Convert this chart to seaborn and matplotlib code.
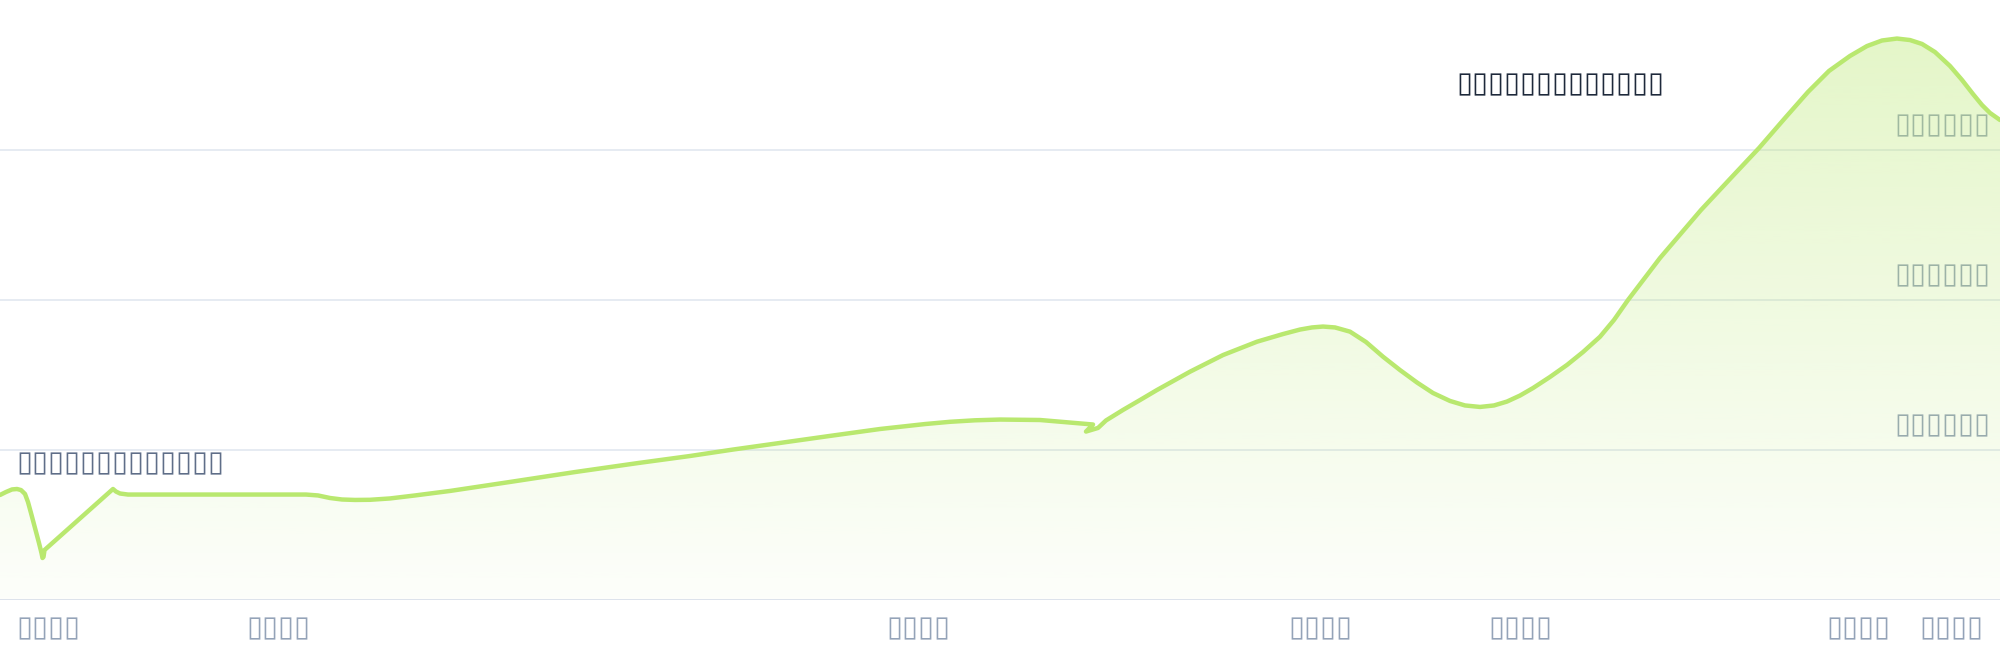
import numpy as np
import pandas as pd
import matplotlib
matplotlib.use("Agg")
import matplotlib.pyplot as plt
import matplotlib.colors as mcolors
import seaborn as sns

# text in the reference is unreadable (rendered as empty boxes), kept as box glyphs
BOX = "\u25af"
title_text = BOX * 13
note_text = BOX * 13
y_labels = [BOX * 6, BOX * 6, BOX * 6]
y_label_values = [1, 2, 3]
x_tick_pos = [48, 278, 918, 1320, 1520, 1858, 1951]
x_tick_labels = [BOX * 4] * 7

# curve (x position, value in grid units)
xs = [0, 6, 12, 17, 21, 25, 28, 31, 35, 39, 41.5, 42.5, 43.5, 44.5, 113, 116, 120, 128,
      306, 318, 330, 342, 355, 370, 390, 415, 450, 510, 575, 638, 690, 733, 780, 829,
      880, 925, 950, 975, 1000, 1040, 1070, 1093, 1086, 1098, 1106, 1123, 1140, 1157,
      1190, 1223, 1257, 1283, 1300, 1312, 1323, 1335, 1350, 1366, 1383, 1400, 1417,
      1433, 1450, 1465, 1480, 1494, 1507, 1520, 1533, 1550, 1567, 1583, 1600, 1614,
      1628, 1660, 1701, 1730, 1759, 1785, 1808, 1829, 1850, 1867, 1882, 1897, 1910,
      1922, 1935, 1950, 1962, 1973, 1982, 1990, 2000]
ys = [0.700, 0.720, 0.737, 0.740, 0.733, 0.707, 0.653, 0.580, 0.480, 0.380, 0.313,
      0.280, 0.287, 0.333, 0.740, 0.723, 0.710, 0.703,
      0.703, 0.697, 0.680, 0.670, 0.667, 0.668, 0.677, 0.697, 0.727, 0.787, 0.853,
      0.913, 0.960, 1.003, 1.047, 1.093,
      1.140, 1.173, 1.188, 1.198, 1.203, 1.200, 1.183, 1.170, 1.123, 1.147, 1.197,
      1.267, 1.333, 1.400,
      1.522, 1.633, 1.722, 1.773, 1.803, 1.817, 1.823, 1.817, 1.789, 1.720, 1.622,
      1.533, 1.450,
      1.380, 1.327, 1.297, 1.287, 1.297, 1.323, 1.363, 1.413, 1.487, 1.567, 1.653,
      1.755, 1.867,
      2.000, 2.280, 2.600, 2.807, 3.013, 3.213, 3.387, 3.527, 3.627, 3.693, 3.730,
      3.743, 3.733,
      3.707, 3.653, 3.560, 3.467, 3.373, 3.300, 3.247, 3.200]

df = pd.DataFrame({"x": xs, "y": ys})

LINE = "#b9e86f"
GRID = "#e2e8f0"

sns.set_theme(style="white")
plt.rcParams["font.family"] = ["DejaVu Sans"]

fig = plt.figure(figsize=(10, 3.3), dpi=200)
ax = fig.add_axes([0, 60 / 660, 1, 600 / 660])
ax.set_xlim(0, 2000)
ax.set_ylim(0, 4)
for s in ax.spines.values():
    s.set_visible(False)

for v in y_label_values:
    ax.axhline(v, color=GRID, lw=0.6, zorder=0.5)
ax.axhline(0, color="#dde3ec", lw=0.7, zorder=2.5)

# y labels sit under the translucent fill
for v, lab in zip(y_label_values, y_labels):
    ax.annotate(lab, xy=(1, v), xycoords=("axes fraction", "data"),
                xytext=(-3.5, 4), textcoords="offset points",
                ha="right", va="bottom", fontsize=10.5, color="#94a3b8", zorder=1)

# gradient fill under the curve
poly = ax.fill_between(df["x"], df["y"], 0, facecolor="none", edgecolor="none")
rgb = mcolors.to_rgb(LINE)
n = 256
grad = np.zeros((n, 1, 4))
grad[:, 0, :3] = rgb
grad[:, 0, 3] = 0.03 + 0.093 * np.linspace(0, 4, n)
img = ax.imshow(grad, origin="lower", extent=[0, 2000, 0, 4], aspect="auto", zorder=2)
img.set_clip_path(poly.get_paths()[0], transform=ax.transData)

sns.lineplot(data=df, x="x", y="y", sort=False, estimator=None, color=LINE,
             lw=1.6, ax=ax, zorder=3)
ax.lines[-1].set_solid_joinstyle("round")

ax.set_xticks(x_tick_pos, x_tick_labels)
ax.set_yticks([])
ax.tick_params(axis="x", length=0, pad=5, labelsize=10.5, labelcolor="#94a3b8")
ax.set_xlabel("")
ax.set_ylabel("")

ax.text(1560, 3.44, title_text, ha="center", va="center", fontsize=10.5,
        color="#1e293b", zorder=4)
ax.text(16, 0.91, note_text, ha="left", va="center", fontsize=10.5,
        color="#5f6e88", zorder=4)

fig.savefig("out.png", dpi=200)
